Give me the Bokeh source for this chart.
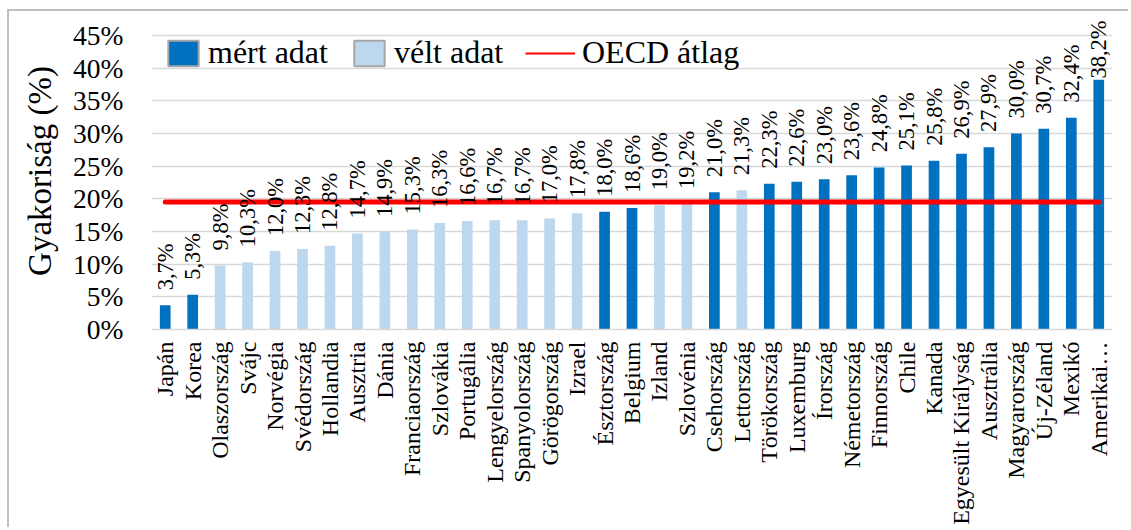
import math
from bokeh.plotting import figure
from bokeh.models import (ColumnDataSource, FactorRange, Range1d, FixedTicker,
                          PrintfTickFormatter, Legend, LegendItem)
from bokeh.core.properties import value
from bokeh.embed import file_html
from bokeh.resources import INLINE

# ---------------- data ----------------
countries = ["Japán", "Korea", "Olaszország", "Svájc", "Norvégia", "Svédország",
             "Hollandia", "Ausztria", "Dánia", "Franciaország", "Szlovákia",
             "Portugália", "Lengyelország", "Spanyolország", "Görögország",
             "Izrael", "Észtország", "Belgium", "Izland", "Szlovénia",
             "Csehország", "Lettország", "Törökország", "Luxemburg", "Írország",
             "Németország", "Finnország", "Chile", "Kanada",
             "Egyesült Királyság", "Ausztrália", "Magyarország", "Új-Zéland",
             "Mexikó", "Amerikai…"]
values = [3.7, 5.3, 9.8, 10.3, 12.0, 12.3, 12.8, 14.7, 14.9, 15.3, 16.3, 16.6,
          16.7, 16.7, 17.0, 17.8, 18.0, 18.6, 19.0, 19.2, 21.0, 21.3, 22.3,
          22.6, 23.0, 23.6, 24.8, 25.1, 25.8, 26.9, 27.9, 30.0, 30.7, 32.4, 38.2]
kinds = ["mért adat", "mért adat", "vélt adat", "vélt adat", "vélt adat",
         "vélt adat", "vélt adat", "vélt adat", "vélt adat", "vélt adat",
         "vélt adat", "vélt adat", "vélt adat", "vélt adat", "vélt adat",
         "vélt adat", "mért adat", "mért adat", "vélt adat", "vélt adat",
         "mért adat", "vélt adat", "mért adat", "mért adat", "mért adat",
         "mért adat", "mért adat", "mért adat", "mért adat", "mért adat",
         "mért adat", "mért adat", "mért adat", "mért adat", "mért adat"]
oecd_avg = 19.5
y_ticks = [0, 5, 10, 15, 20, 25, 30, 35, 40, 45]
series_names = ["mért adat", "vélt adat", "OECD átlag"]

# ---------------- style ----------------
COLORS = {"mért adat": "#0070C0", "vélt adat": "#BDD7EE"}
RED = "#FF0000"
GRID = "#D9D9D9"
FONT = "Liberation Serif"
LABEL_GAP = 2.3     # gap between bar top and its label (in axis units)
LABEL_CAP = 38.4    # highest start of a label (kept inside the chart)

labels = [("%.1f" % v).replace(".", ",") + "%" for v in values]
label_y = [min(v + LABEL_GAP, LABEL_CAP) for v in values]
colors = [COLORS[k] for k in kinds]

src = ColumnDataSource(dict(country=countries, val=values, color=colors,
                            label=labels, label_y=label_y))

p = figure(x_range=FactorRange(factors=countries, range_padding=0),
           y_range=Range1d(0, 48.5),
           width=1121, height=518,
           output_backend="svg", toolbar_location=None,
           min_border_left=142, min_border_right=18,
           min_border_top=1, min_border_bottom=200)
p.styles = {"border-left": "2px solid #C0C0C0", "border-top": "2px solid #C0C0C0",
            "margin-left": "7px", "margin-top": "9px"}
p.outline_line_color = None
p.background_fill_color = "white"
p.border_fill_color = "white"

p.vbar(x="country", top="val", width=0.39, fill_color="color",
       line_color=None, source=src)
p.line(x=countries, y=[oecd_avg] * len(countries), line_color=RED,
       line_width=5, line_cap="round")
p.text(x="country", y="label_y", text="label", angle=math.pi / 2,
       text_align="left", text_baseline="middle",
       text_font=value(FONT), text_font_size="22.5px", text_color="black",
       source=src)

# legend helper renderers (nothing visible in the plot)
nan = float("nan")
r_m = p.vbar(x=[countries[0]], top=[nan], width=0.4,
             fill_color=COLORS["mért adat"], line_color="#A6A6A6", line_width=2)
r_v = p.vbar(x=[countries[0]], top=[nan], width=0.4,
             fill_color=COLORS["vélt adat"], line_color="#A6A6A6", line_width=2)
r_l = p.line(x=[countries[0]], y=[nan], line_color=RED, line_width=2)

common = dict(orientation="horizontal", padding=0, margin=0,
              border_line_color=None, background_fill_alpha=0,
              label_text_font=FONT, label_text_font_size="32px",
              label_text_color="black", label_height=26)
leg1 = Legend(items=[LegendItem(label=series_names[0], renderers=[r_m]),
                     LegendItem(label=series_names[1], renderers=[r_v])],
              location=(13, 258), glyph_width=38, glyph_height=32,
              label_standoff=6, spacing=22, **common)
leg2 = Legend(items=[LegendItem(label=series_names[2], renderers=[r_l])],
              location=(374, 258), glyph_width=50, glyph_height=32,
              label_standoff=7, **common)
p.add_layout(leg1)
p.add_layout(leg2)

# grid
p.xgrid.grid_line_color = None
p.ygrid.grid_line_color = GRID
p.ygrid.grid_line_width = 1.5
p.ygrid.ticker = FixedTicker(ticks=y_ticks)

# y axis
p.yaxis.ticker = FixedTicker(ticks=y_ticks)
p.yaxis.formatter = PrintfTickFormatter(format="%d%%")
p.yaxis.axis_line_color = None
p.yaxis.major_tick_line_color = None
p.yaxis.minor_tick_line_color = None
p.yaxis.major_tick_out = 0
p.yaxis.major_tick_in = 0
p.yaxis.major_label_standoff = 28
p.yaxis.major_label_text_font = FONT
p.yaxis.major_label_text_font_size = "27.5px"
p.yaxis.major_label_text_color = "black"
p.yaxis.axis_label = "Gyakoriság (%)"
p.yaxis.axis_label_text_font = FONT
p.yaxis.axis_label_text_font_size = "33px"
p.yaxis.axis_label_text_font_style = "normal"
p.yaxis.axis_label_text_color = "black"
p.yaxis.axis_label_standoff = 12

# x axis
p.xaxis.axis_line_color = GRID
p.xaxis.axis_line_width = 1.5
p.xaxis.major_tick_line_color = None
p.xaxis.minor_tick_line_color = None
p.xaxis.major_tick_out = 0
p.xaxis.major_tick_in = 0
p.xaxis.major_label_orientation = math.pi / 2
p.xaxis.major_label_standoff = 12
p.xaxis.major_label_text_font = FONT
p.xaxis.major_label_text_font_size = "24px"
p.xaxis.major_label_text_color = "black"

open("out.html", "w").write(file_html(p, INLINE))
